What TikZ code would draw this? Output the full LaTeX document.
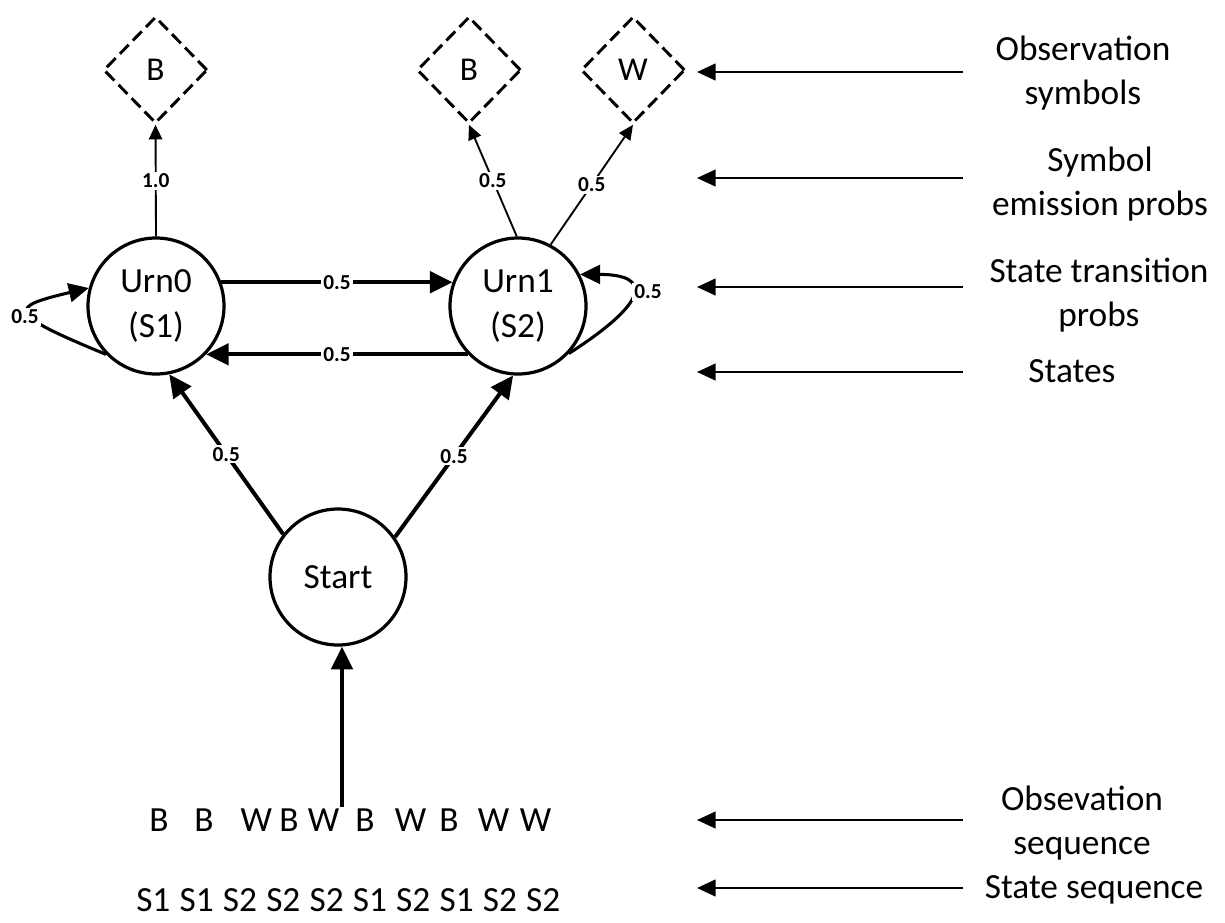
\documentclass[tikz,border=0pt]{standalone}
\usepackage{fontspec}
\setmainfont{Carlito}
\usetikzlibrary{shapes.geometric,arrows.meta}
\begin{document}
\begin{tikzpicture}[x=0.75pt,y=-0.75pt,
  state/.style={circle,draw,line width=2.4pt,minimum size=102pt,inner sep=0pt,
    align=center,font=\fontsize{26.5}{33.5}\selectfont},
  obs/.style={diamond,draw,dash pattern=on 9.5pt off 4.5pt,line width=2.2pt,
    minimum width=78pt,minimum height=80pt,inner sep=0pt,font=\fontsize{25}{28}\selectfont},
  prob/.style={fill=white,inner sep=1.5pt,font=\fontsize{16}{18}\selectfont\bfseries},
  note/.style={align=center,inner sep=0pt,font=\fontsize{26.5}{33}\selectfont},
  big/.style={inner sep=0pt,font=\fontsize{26.5}{30}\selectfont},
  thickarr/.style={line width=3pt,-{Triangle[length=17pt,width=16pt]}},
  thinarr/.style={line width=1.4pt,-{Triangle[length=11pt,width=10pt]}},
  looparr/.style={line width=2.3pt,-{Triangle[length=15pt,width=14pt]}},
  notearr/.style={line width=1.8pt,-{Triangle[length=14pt,width=12.5pt]}},
]
\path[use as bounding box,fill=white] (0,0) rectangle (1225,922);

% observation symbols
\node[obs] (d1) at (155.5,70) {B};
\node[obs] (d2) at (469,70) {B};
\node[obs] (d3) at (633,70) {W};

% states
\node[state] (u0) at (156,306) {Urn0\\(S1)};
\node[state] (u1) at (518,306) {Urn1\\(S2)};
\node[state] (st) at (338,577) {Start};

% emissions
\draw[thinarr] (u0.north) -- node[prob] (e1) {1.0} (d1.south);
\draw[thinarr] (u1.91) -- node[prob] (e2) {0.5} (d2.south);
\draw[thinarr] (u1.62) -- node[prob] (e3) {0.5} (d3.south);

% transitions
\draw[thickarr] (u0.20) -- node[prob] (t01) {0.5} (u1.160);
\draw[thickarr] (u1.224) -- node[prob] (t10) {0.5} (u0.316);
\draw[thickarr] (st.142) -- node[prob] (s0) {0.5} (u0.281);
\draw[thickarr] (st.35) -- node[prob] (s1) {0.5} (u1.266);

% self loops
\draw[looparr] (u0.224) .. controls +(-102,-42) and +(-80,19) .. (u0.165);
\node[prob] (l0) at (25,317) {0.5};
\draw[looparr] (u1.317) .. controls +(84,-54) and +(70,0) .. (u1.27);
\node[prob] (l1) at (648,292) {0.5};

% input to start
\coordinate (in) at (342,807);
\draw[thickarr] (in) -- (in |- st.south);

% sequences
\node[big,anchor=base west] (oseq) at (149,831) {B\hspace{19.35pt}B\hspace{20.4pt}W\hspace{5.4pt}B\hspace{6.9pt}W\hspace{12.15pt}B\hspace{15.15pt}W\hspace{9.9pt}B\hspace{14.4pt}W\hspace{7.95pt}W};
\node[big,anchor=base west] (sseq) at (136,911) {S1\hspace{6.9pt}S1\hspace{6.9pt}S2\hspace{6.9pt}S2\hspace{6.9pt}S2\hspace{6.9pt}S1\hspace{6.9pt}S2\hspace{6.9pt}S1\hspace{6.9pt}S2\hspace{6.9pt}S2};

% annotation labels
\node[note] (o1) at (1083,73) {Observation\\symbols};
\node[note] (o2) at (1100,184.5) {Symbol\\emission probs};
\node[note] (o3) at (1099,295.5) {State transition\\probs};
\node[note,anchor=base] (o4) at (1072,382) {States};
\node[note] (o5) at (1082,823.5) {Obsevation\\sequence};
\node[note,anchor=base] (o6) at (1094,898) {State sequence};

% annotation arrows
\coordinate (a1t) at (963,72);  \coordinate (a1h) at (697,72);
\coordinate (a2t) at (963,178); \coordinate (a2h) at (697,178);
\coordinate (a3t) at (963,287); \coordinate (a3h) at (697,287);
\coordinate (a4t) at (963,372); \coordinate (a4h) at (697,372);
\coordinate (a5t) at (963,820); \coordinate (a5h) at (697,820);
\coordinate (a6t) at (963,888); \coordinate (a6h) at (697,888);
\foreach \i in {1,...,6} \draw[notearr] (a\i t) -- (a\i h);
\end{tikzpicture}
\end{document}
